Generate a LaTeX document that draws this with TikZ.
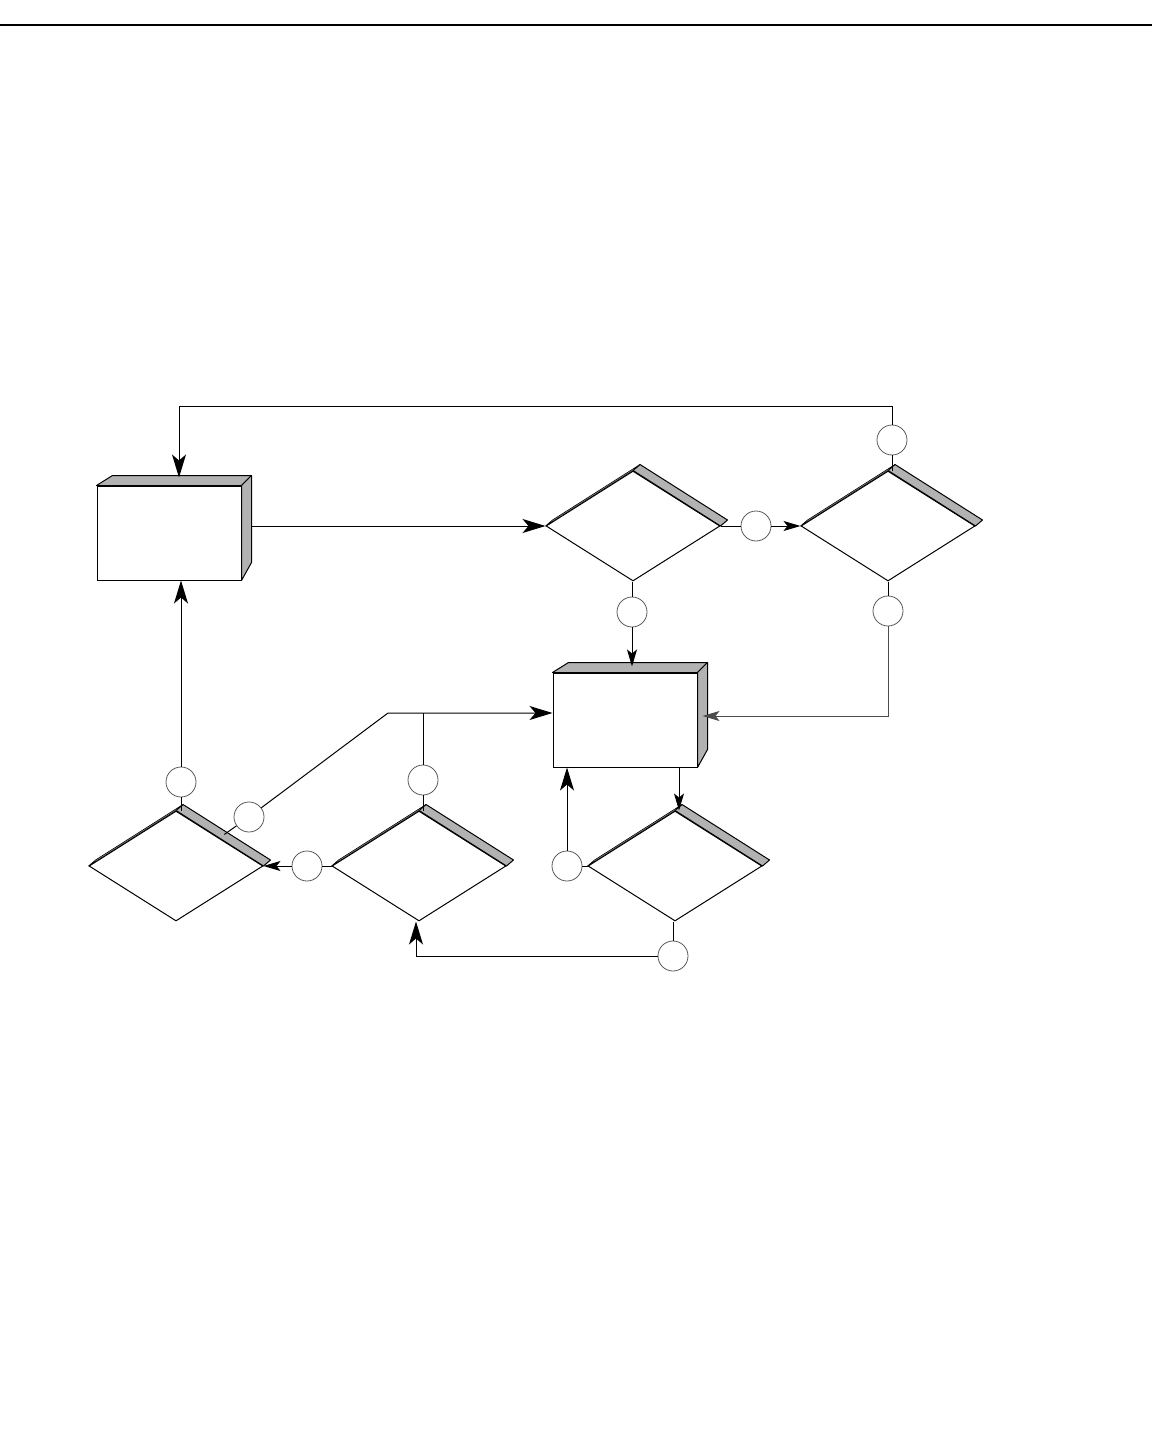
\documentclass[tikz,border=0pt]{standalone}
\usetikzlibrary{shapes.geometric,arrows.meta,calc}
\definecolor{shade}{gray}{0.70}
\begin{document}
\begin{tikzpicture}[x=0.5pt,y=-0.5pt,line width=0.5pt]
        \tikzset{box/.style={draw, fill=white, line width=0.5pt, minimum width=72pt, minimum height=47pt, inner sep=0pt},
                 choice/.style={diamond, draw, fill=white, line width=0.5pt, minimum width=87pt, minimum height=55pt, inner sep=0pt},
                 tag/.style={circle, draw=black!65, line width=0.4pt, minimum size=15pt, inner sep=0pt},
                 face/.style={fill=shade, draw, line width=0.5pt, line join=round},
                 sliver/.style={fill=shade, draw, line width=0.3pt, line join=round},
                 big/.style={-{Stealth[length=11.5pt,width=7pt,inset=3pt]}},
                 small/.style={-{Stealth[length=8.5pt,width=5pt,inset=2pt]}}}
        \useasboundingbox (0,0) rectangle (1152,1444);
        \draw[line width=1pt] (0,25) -- (1152,25);
        \node[box] (b1) at (169,533) {};
        \node[box] (b2) at (625,720) {};
        \node[choice] (d1) at (633,526) {};
        \node[choice] (d2) at (888,526) {};
        \node[choice] (d3) at (176,866) {};
        \node[choice] (d4) at (419,866) {};
        \node[choice] (d5) at (675,866) {};
        \foreach \b in {b1,b2} {
            \filldraw[face] (\b.north west) -- ++(16,-10) -- ($(\b.north east)+(10,-10)$) -- (\b.north east) -- cycle;
            \filldraw[face] (\b.north east) -- ++(10,-10) -- ($(\b.south east)+(10,-18)$) -- (\b.south east) -- cycle;
        }
        \foreach \d in {d1,d2,d3,d4,d5} {
            \filldraw[face] (\d.north) -- ++(7,-6) -- ($(\d.east)+(7,-6)$) -- (\d.east) -- cycle;
            \filldraw[sliver] (\d.west) -- ($(\d.west)+(7,-6)$) -- ($(\d.north)+(7,-6)$) -- (\d.north) -- cycle;
        }
        \node[tag] (c1) at (892,440) {};
        \node[tag] (c2) at (756,526) {};
        \node[tag] (c3) at (632,612) {};
        \node[tag] (c4) at (888,611) {};
        \node[tag] (c5) at (181,782) {};
        \node[tag] (c6) at (249,817) {};
        \node[tag] (c7) at (423,780) {};
        \node[tag] (c8) at (307,866) {};
        \node[tag] (c9) at (567,866) {};
        \node[tag] (c10) at (673,956) {};
        \coordinate (loop) at (892,406);
        \coordinate (kink) at (388,713);
        \draw[big] ([xshift=5pt]b1.east |- d1.west) -- (d1.west);
        \draw (d1.east) -- (c2);
        \draw[small] (c2) -- (d2.west);
        \draw (c3 |- d1.south) -- (c3);
        \draw[small] (c3) -- ([yshift=3pt]b2.north -| c3);
        \draw (d2.south) -- (c4);
        \draw[small,black!70] (c4) |- ([shift={(5,-4)}]b2.east);
        \draw (c1 |- d2.north) -- (c1);
        \draw[big] (c1) -- (loop) -| ([shift={(10,-8)}]b1.north);
        \draw (c5 |- d3.north) -- (c5);
        \draw[big] (c5) -- (c5 |- b1.south);
        \draw ($(d3.north)!0.54!(d3.east)+(1,-6)$) -- (c6);
        \draw[big] (c6) -- (kink) -- (b2.west |- kink);
        \draw (c7 |- d4.north) -- (c7);
        \draw (c7) -- (c7 |- kink);
        \draw (d4.west) -- (c8);
        \draw[small] (c8) -- (d3.east);
        \draw (d5.west) -- (c9);
        \draw[big] (c9) -- (c9 |- b2.south);
        \draw (c10 |- d5.south) -- (c10);
        \draw[big] (c10) -| ([xshift=-1.5pt]d4.south);
        \draw[small] ([xshift=2pt]d5.north |- b2.south) -- ([xshift=2pt]d5.north);
    \end{tikzpicture}
\end{document}
